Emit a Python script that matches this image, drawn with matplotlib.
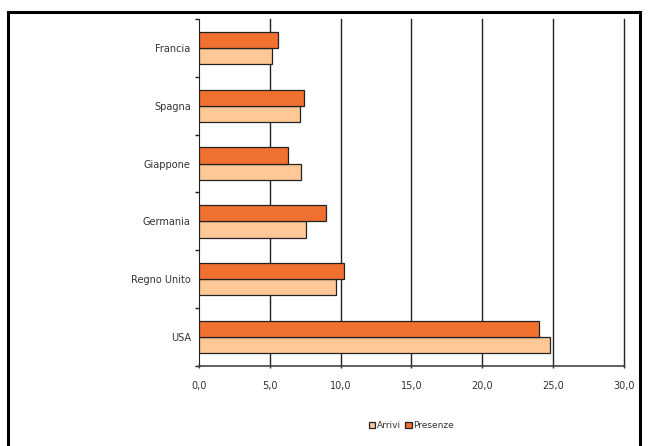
import numpy as np
import matplotlib.pyplot as plt
from matplotlib.patches import Rectangle

paesi = ["Francia", "Spagna", "Giappone", "Germania", "Regno Unito", "USA"]
arrivi = [5.15, 7.15, 7.2, 7.55, 9.7, 24.8]
presenze = [5.55, 7.4, 6.25, 8.95, 10.25, 24.0]
xticks = [0, 5, 10, 15, 20, 25, 30]
xlabels = ["0,0", "5,0", "10,0", "15,0", "20,0", "25,0", "30,0"]

plt.rcParams['font.family'] = ['Liberation Sans Narrow', 'DejaVu Sans']

fig = plt.figure(figsize=(6.51, 4.46), dpi=100)
ax = fig.add_axes([0.3057, 0.1794, 0.6528, 0.778])

# outer frame
fig.patches.append(Rectangle((8/651, -0.05), 632/651, 1.05 - 12/446, transform=fig.transFigure,
                             fill=False, edgecolor='black', linewidth=2.2, clip_on=False))

y = np.arange(len(paesi))[::-1].astype(float)
h = 0.28
ax.barh(y - h/2, arrivi, height=h, color='#FFC896', edgecolor='#222222', linewidth=0.9,
        label='Arrivi', zorder=3)
ax.barh(y + h/2, presenze, height=h, color='#F07030', edgecolor='#222222', linewidth=0.9,
        label='Presenze', zorder=3)

ax.set_xlim(0, 30)
ax.set_ylim(-0.5, 5.5)
ax.set_xticks(xticks)
ax.set_xticklabels(xlabels, fontsize=7, color='#333333')
ax.set_yticks(y)
ax.set_yticklabels(paesi, fontsize=7, color='#333333')
ax.set_yticks(np.arange(-0.5, 6, 1), minor=True)
ax.tick_params(axis='y', which='major', length=0, pad=6)
ax.tick_params(axis='y', which='minor', length=3, width=1, color='#222222')
ax.tick_params(axis='x', length=3, width=1, direction='inout', pad=9, color='#333333')

for v in xticks[1:]:
    ax.axvline(v, color='#222222', linewidth=1.0, zorder=1, clip_on=False)

ax.spines['top'].set_visible(False)
ax.spines['right'].set_visible(False)
ax.spines['bottom'].set_color('#444444')
ax.spines['bottom'].set_linewidth(1.2)
ax.spines['left'].set_color('#222222')

ax.legend(loc='upper center', bbox_to_anchor=(0.5, -0.135), ncol=2, frameon=False,
          fontsize=6.5, handlelength=0.7, handleheight=0.7, handletextpad=0.2, columnspacing=0.5,
          labelcolor='#333333')

plt.savefig("out.png", dpi=100)
plt.close()
